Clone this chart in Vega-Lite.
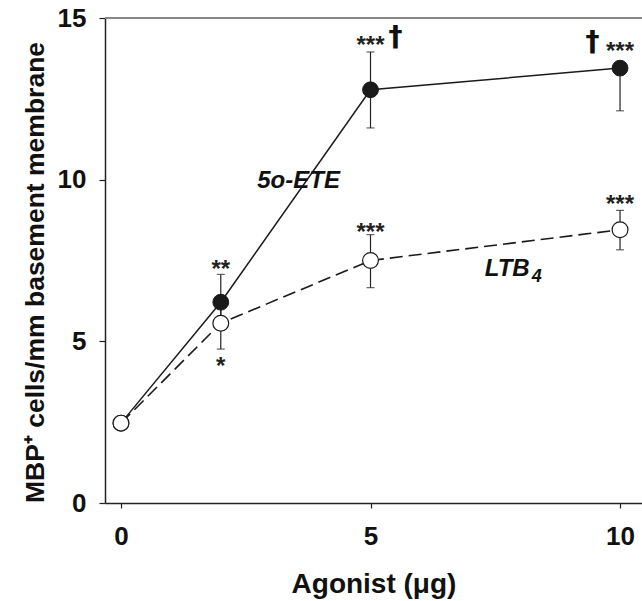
{
  "$schema": "https://vega.github.io/schema/vega-lite/v6.json",
  "autosize": {"type": "none"},
  "padding": {"left": 105, "top": 18, "right": 0, "bottom": 98},
  "width": 537,
  "height": 485,
  "background": "white",
  "config": {
    "view": {"stroke": null},
    "font": "Liberation Sans",
    "axis": {
      "grid": false,
      "domainColor": "#222",
      "domainWidth": 1.5,
      "tickColor": "#222",
      "tickWidth": 1.2,
      "labelColor": "#111",
      "labelFont": "Liberation Sans",
      "labelFontSize": 26,
      "labelFontWeight": "bold",
      "titleColor": "#111",
      "titleFont": "Liberation Sans",
      "titleFontWeight": "bold"
    }
  },
  "datasets": {
    "pts": [
      {"x": 0, "y": 2.47, "s": "5o-ETE", "lo": null, "hi": null},
      {"x": 2, "y": 6.21, "s": "5o-ETE", "lo": 5.35, "hi": 7.07},
      {"x": 5, "y": 12.78, "s": "5o-ETE", "lo": 11.6, "hi": 13.95},
      {"x": 10, "y": 13.45, "s": "5o-ETE", "lo": 12.13, "hi": 13.45},
      {"x": 0, "y": 2.47, "s": "LTB4", "lo": null, "hi": null},
      {"x": 2, "y": 5.56, "s": "LTB4", "lo": 4.76, "hi": 6.36},
      {"x": 5, "y": 7.5, "s": "LTB4", "lo": 6.66, "hi": 8.3},
      {"x": 10, "y": 8.45, "s": "LTB4", "lo": 7.83, "hi": 9.05}
    ],
    "stars": [
      {"x": 2, "y": 6.98, "t": "**"},
      {"x": 2, "y": 3.98, "t": "*"},
      {"x": 5, "y": 13.92, "t": "***"},
      {"x": 5, "y": 8.13, "t": "***"},
      {"x": 10, "y": 13.74, "t": "***"},
      {"x": 10, "y": 8.99, "t": "***"}
    ],
    "daggers": [
      {"x": 5.5, "y": 14.37, "t": "†"},
      {"x": 9.45, "y": 14.23, "t": "†"}
    ],
    "labels": [
      {"x": 2.73, "y": 9.75, "t": "5o-ETE"},
      {"x": 7.29, "y": 7.03, "t": "LTB"}
    ],
    "subs": [
      {"x": 8.23, "y": 6.83, "t": "4"}
    ]
  },
  "layer": [
    {
      "data": {"name": "pts"},
      "mark": {"type": "rule", "color": "#888", "strokeWidth": 1},
      "encoding": {"y": {"datum": 15, "type": "quantitative"}}
    },
    {
      "data": {"name": "pts"},
      "transform": [{"filter": "datum.s == '5o-ETE'"}],
      "mark": {"type": "line", "color": "#1a1a1a", "strokeWidth": 1.5},
      "encoding": {
        "x": {"field": "x", "type": "quantitative",
          "scale": {"domain": [-0.32, 10.44], "nice": false, "zero": false},
          "axis": {"values": [0, 5, 10], "tickSize": 5, "labelPadding": 15,
            "title": "Agonist (μg)", "titleFontSize": 28, "titleBaseline": "alphabetic", "titleY": 89}},
        "y": {"field": "y", "type": "quantitative",
          "scale": {"domain": [0, 15], "nice": false},
          "axis": {"values": [0, 5, 10, 15], "tickSize": 6, "labelPadding": 13,
            "title": "MBP⁺ cells/mm basement membrane", "titleFontSize": 26.5,
            "titleBaseline": "alphabetic", "titleAngle": -90, "titleX": -62, "titleY": 254, "titleAlign": "center"}}
      }
    },
    {
      "data": {"name": "pts"},
      "transform": [{"filter": "datum.s == 'LTB4'"}],
      "mark": {"type": "line", "color": "#1a1a1a", "strokeWidth": 1.6, "strokeDash": [13, 6]},
      "encoding": {
        "x": {"field": "x", "type": "quantitative"},
        "y": {"field": "y", "type": "quantitative"}
      }
    },
    {
      "data": {"name": "pts"},
      "transform": [{"filter": "isValid(datum.lo)"}],
      "mark": {"type": "rule", "color": "#222", "strokeWidth": 1.2},
      "encoding": {
        "x": {"field": "x", "type": "quantitative"},
        "y": {"field": "lo", "type": "quantitative"},
        "y2": {"field": "hi"}
      }
    },
    {
      "data": {"name": "pts"},
      "transform": [{"filter": "isValid(datum.lo)"}],
      "mark": {"type": "tick", "orient": "horizontal", "size": 8, "thickness": 1.2, "color": "#222"},
      "encoding": {
        "x": {"field": "x", "type": "quantitative"},
        "y": {"field": "lo", "type": "quantitative"}
      }
    },
    {
      "data": {"name": "pts"},
      "transform": [{"filter": "isValid(datum.hi)"}],
      "mark": {"type": "tick", "orient": "horizontal", "size": 8, "thickness": 1.2, "color": "#222"},
      "encoding": {
        "x": {"field": "x", "type": "quantitative"},
        "y": {"field": "hi", "type": "quantitative"}
      }
    },
    {
      "data": {"name": "pts"},
      "transform": [{"filter": "datum.s == '5o-ETE'"}],
      "mark": {"type": "point", "shape": "circle", "filled": true, "fill": "#1a1a1a", "stroke": "#1a1a1a", "strokeWidth": 1, "size": 250, "opacity": 1},
      "encoding": {
        "x": {"field": "x", "type": "quantitative"},
        "y": {"field": "y", "type": "quantitative"}
      }
    },
    {
      "data": {"name": "pts"},
      "transform": [{"filter": "datum.s == 'LTB4'"}],
      "mark": {"type": "point", "shape": "circle", "filled": true, "fill": "white", "stroke": "#1a1a1a", "strokeWidth": 1.2, "size": 250, "opacity": 1},
      "encoding": {
        "x": {"field": "x", "type": "quantitative"},
        "y": {"field": "y", "type": "quantitative"}
      }
    },
    {
      "data": {"name": "stars"},
      "mark": {"type": "text", "fontSize": 24, "fontWeight": "bold", "align": "center", "baseline": "alphabetic", "color": "#222"},
      "encoding": {
        "x": {"field": "x", "type": "quantitative"},
        "y": {"field": "y", "type": "quantitative"},
        "text": {"field": "t"}
      }
    },
    {
      "data": {"name": "daggers"},
      "mark": {"type": "text", "font": "DejaVu Sans", "fontSize": 28, "fontWeight": "bold", "align": "center", "baseline": "middle", "color": "#111"},
      "encoding": {
        "x": {"field": "x", "type": "quantitative"},
        "y": {"field": "y", "type": "quantitative"},
        "text": {"field": "t"}
      }
    },
    {
      "data": {"name": "labels"},
      "mark": {"type": "text", "fontSize": 24, "fontWeight": "bold", "fontStyle": "italic", "align": "left", "baseline": "alphabetic", "color": "#111"},
      "encoding": {
        "x": {"field": "x", "type": "quantitative"},
        "y": {"field": "y", "type": "quantitative"},
        "text": {"field": "t"}
      }
    },
    {
      "data": {"name": "subs"},
      "mark": {"type": "text", "fontSize": 18, "fontWeight": "bold", "fontStyle": "italic", "align": "left", "baseline": "alphabetic", "color": "#111"},
      "encoding": {
        "x": {"field": "x", "type": "quantitative"},
        "y": {"field": "y", "type": "quantitative"},
        "text": {"field": "t"}
      }
    }
  ]
}
